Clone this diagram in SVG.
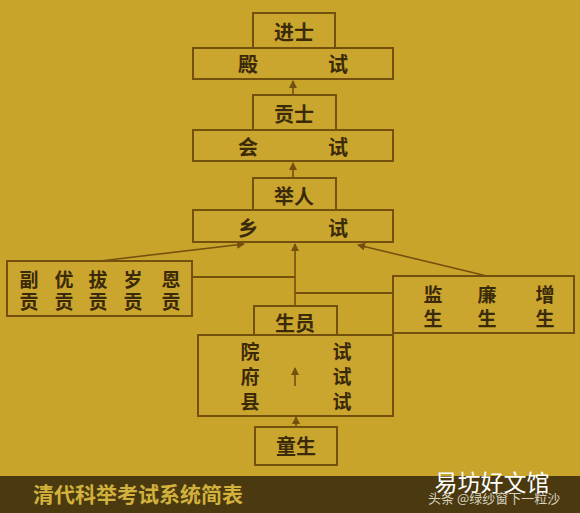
<svg xmlns="http://www.w3.org/2000/svg" width="580" height="513" viewBox="0 0 580 513">
<defs>
<style>
.box{fill:#cba62e;stroke:#74500f;stroke-width:2}
.t{font-family:"Noto Sans CJK SC","Noto Sans",sans-serif;font-size:20px;font-weight:bold;fill:#3b2a08;text-anchor:middle;dominant-baseline:central}
.s{font-size:19px}
.ln{stroke:#74500f;stroke-width:2;fill:none}
.ar{stroke:#74500f;stroke-width:1.6;fill:none;marker-end:url(#ah)}
</style>
<marker id="ah" viewBox="0 0 8 8" refX="7" refY="4" markerWidth="5" markerHeight="5" orient="auto"><path d="M0,0L8,4L0,8z" fill="#74500f"/></marker>
</defs>
<rect x="0" y="0" width="580" height="513" fill="#c9a42b"/>
<rect x="0" y="476" width="580" height="37" fill="#4b3a0f"/>
<g id="jinshi"><rect class="box" x="253" y="13" width="82" height="35"/><text class="t" x="294" y="31">进士</text></g>
<g id="dianshi"><rect class="box" x="193" y="48" width="200" height="31"/><text class="t" x="248" y="63">殿</text><text class="t" x="338" y="63">试</text></g>
<g id="gongshi"><rect class="box" x="253" y="95" width="83" height="35"/><text class="t" x="294" y="113">贡士</text></g>
<g id="huishi"><rect class="box" x="193" y="130" width="200" height="31"/><text class="t" x="248" y="146">会</text><text class="t" x="338" y="146">试</text></g>
<g id="juren"><rect class="box" x="253" y="178" width="83" height="32"/><text class="t" x="294" y="195">举人</text></g>
<g id="xiangshi"><rect class="box" x="193" y="210" width="200" height="32"/><text class="t" x="248" y="227">乡</text><text class="t" x="338" y="227">试</text></g>
<g id="wugong"><rect class="box" x="7" y="261" width="185" height="55"/>
<text class="t s" x="29" y="278">副</text><text class="t s" x="64" y="278">优</text><text class="t s" x="98" y="278">拔</text><text class="t s" x="133" y="278">岁</text><text class="t s" x="171" y="278">恩</text>
<text class="t s" x="29" y="300">贡</text><text class="t s" x="64" y="300">贡</text><text class="t s" x="98" y="300">贡</text><text class="t s" x="133" y="300">贡</text><text class="t s" x="171" y="300">贡</text></g>
<g id="jiansheng"><rect class="box" x="393" y="276" width="181" height="57"/>
<text class="t s" x="433" y="293">监</text><text class="t s" x="487" y="293">廉</text><text class="t s" x="545" y="293">增</text>
<text class="t s" x="433" y="317">生</text><text class="t s" x="487" y="317">生</text><text class="t s" x="545" y="317">生</text></g>
<g id="shengyuan"><rect class="box" x="254" y="306" width="83" height="29"/><text class="t" x="295" y="322">生员</text></g>
<g id="yuanfuxian"><rect class="box" x="198" y="335" width="195" height="81"/>
<text class="t s" x="250" y="350">院</text><text class="t s" x="250" y="375">府</text><text class="t s" x="250" y="400">县</text>
<text class="t s" x="342" y="350">试</text><text class="t s" x="342" y="375">试</text><text class="t s" x="342" y="400">试</text></g>
<g id="tongsheng"><rect class="box" x="255" y="427" width="82" height="38"/><text class="t" x="296" y="445">童生</text></g>
<g id="connectors">
<line class="ar" x1="293" y1="95" x2="293" y2="81"/>
<line class="ar" x1="293" y1="178" x2="293" y2="163"/>
<line class="ar" x1="100" y1="261" x2="244" y2="244"/>
<line class="ar" x1="487" y1="276" x2="358" y2="245"/>
<line class="ar" x1="295" y1="306" x2="295" y2="244"/>
<line class="ln" x1="193" y1="277" x2="295" y2="277"/>
<line class="ln" x1="295" y1="293" x2="392" y2="293"/>
<line class="ar" x1="295" y1="386" x2="295" y2="368"/>
<line class="ar" x1="296" y1="427" x2="296" y2="417"/>
</g>
<text x="33" y="493" style="font-family:'Noto Sans CJK SC',sans-serif;font-size:21px;font-weight:bold;fill:#d2b23c;dominant-baseline:central">清代科举考试系统简表</text>
<text x="428" y="497" style="font-family:'Noto Sans CJK SC',sans-serif;font-size:13px;fill:#d8d2c0;dominant-baseline:central">头条 @绿纱窗下一粒沙</text>
<text x="492" y="481" style="font-family:'Noto Sans CJK SC',sans-serif;font-size:23px;fill:#ffffff;text-anchor:middle;dominant-baseline:central">易坊好文馆</text>
</svg>
